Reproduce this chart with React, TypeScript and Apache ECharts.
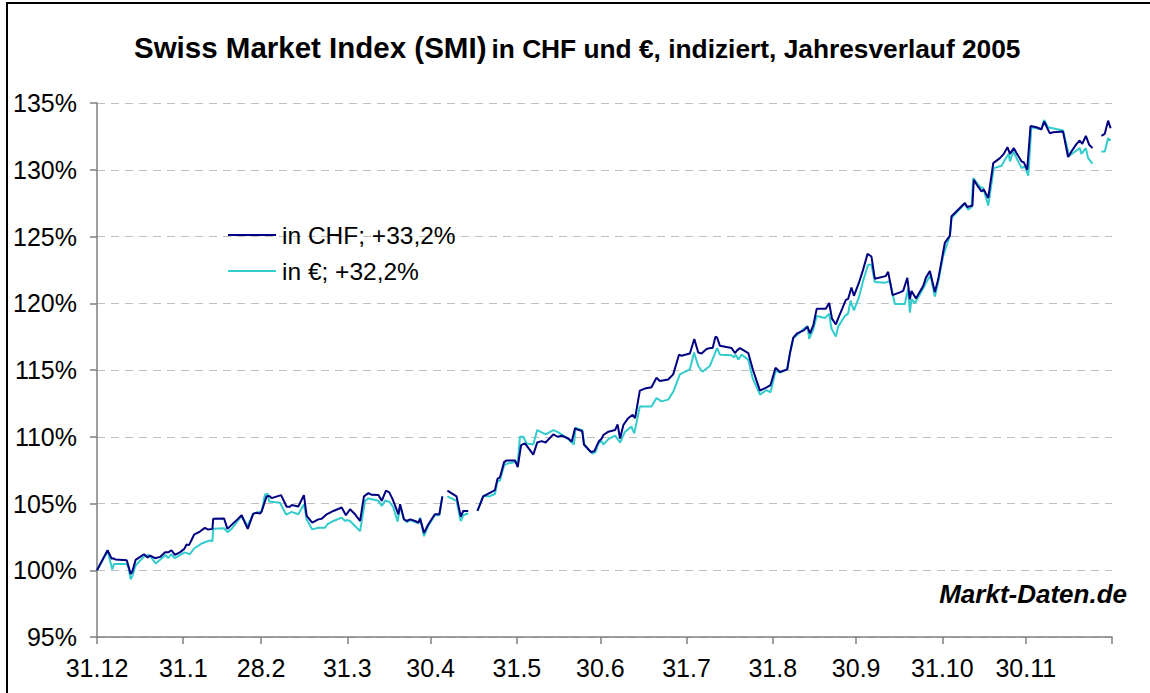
import React, { useEffect, useRef } from 'react';
import * as echarts from 'echarts';

// days since 31.12.2004
const tickDays = [0, 31, 59, 90, 120, 151, 181, 212, 243, 273, 304, 334, 365];
const tickLabels = ['31.12', '31.1', '28.2', '31.3', '30.4', '31.5', '30.6', '31.7', '31.8', '30.9', '31.10', '30.11', ''];
const seriesNames = ['in CHF; +33,2%', 'in €; +32,2%'];

const chfData: any[] = [
  [0, 100], [3.8, 101.5], [5.3, 100.85], [5.9, 100.9], [6.7, 100.8], [10.7, 100.75], [12.1, 99.73], [12.7, 99.9],
  [13.9, 100.78], [15.5, 101.0], [16.9, 101.2], [18.2, 100.95], [19.1, 101.1], [20.9, 100.9], [22.7, 101.0],
  [24.5, 101.34], [25.6, 101.34], [26.8, 101.5], [28.0, 101.15], [29.8, 101.34], [31.4, 101.6], [32.2, 101.93],
  [33.1, 101.88], [34.9, 102.66], [37.0, 102.9], [38.8, 103.17], [40.0, 103.05], [41.5, 103.1], [41.8, 103.85],
  [45.7, 103.88], [46.9, 103.1], [48.4, 103.4], [50.6, 103.83], [52.0, 104.12], [54.2, 103.1], [56.2, 104.24],
  [57.4, 104.3], [58.6, 104.24], [59.2, 104.4], [61.0, 105.54], [62.2, 105.54], [62.8, 105.4], [66.2, 105.63],
  [68.2, 104.76], [69.4, 104.76], [70.0, 104.88], [72.4, 104.78],
  [74.4, 105.63], [75.4, 104.07], [77.4, 103.56], [79.6, 103.81], [80.8, 103.86], [82.6, 104.19], [85.0, 104.44],
  [88.0, 104.7], [89.5, 104.12], [91.0, 104.57], [92.8, 104.19], [94.6, 103.69], [96.0, 105.53], [97.6, 105.78],
  [98.8, 105.65], [101.2, 105.63], [102.4, 105.2], [103.9, 105.96], [105.1, 105.83], [106.3, 105.33], [108.4, 104.19],
  [109.0, 104.95], [110.4, 103.81], [111.4, 103.69], [112.6, 103.81], [114.4, 103.69], [115.6, 103.56], [116.2, 103.86],
  [117.6, 102.8], [119.1, 103.43], [121.5, 104.19], [123.1, 104.19], [124.2, 105.53],
  [125, '-'],
  [126.0, 105.96], [129.3, 105.53], [130.8, 104.02], [131.7, 104.44], [133.5, 104.44],
  [135, '-'],
  [136.8, 104.44], [138.9, 105.53], [141.1, 105.78], [143.1, 106.0], [144.0, 106.84], [144.9, 106.97], [146.4, 108.1],
  [147.3, 108.23], [150.3, 108.23], [151.3, 107.73], [152.5, 109.37], [153.9, 109.5], [156.9, 108.66], [158.3, 109.57],
  [159.9, 109.67], [161.3, 109.57], [164.1, 110.18], [165.6, 110.0], [167.1, 110.08], [169.5, 109.87], [170.7, 109.62],
  [171.9, 110.63], [173.3, 110.5], [174.5, 110.43], [175.1, 109.42], [177.6, 108.86], [178.8, 108.91], [180.5, 109.67],
  [181.5, 109.87], [182.1, 110.13], [183.9, 110.38], [186.3, 110.5], [187.2, 110.93], [188.1, 109.87], [189.3, 110.88],
  [191.0, 111.39], [192.6, 111.64], [193.5, 111.39], [195.2, 113.46], [197.0, 113.61], [199.4, 113.71], [201.2, 114.42],
  [202.4, 114.17], [205.4, 114.29], [207.2, 114.67], [209.3, 116.14], [210.2, 116.07], [213.2, 116.24], [214.8, 117.32],
  [216.2, 116.31], [217.4, 116.24], [219.2, 116.57],
  [220.4, 116.64], [221.4, 116.64], [222.4, 117.5], [223.0, 117.43], [224.0, 116.81], [228.2, 116.64], [229.4, 116.27],
  [230.2, 116.47], [231.2, 116.64], [234.2, 116.27], [236.0, 114.93], [238.4, 113.46], [240.8, 113.7], [242.2, 113.87],
  [244.0, 115.17], [245.6, 114.85], [248.2, 115.05], [249.2, 116.27], [250.4, 117.43], [251.8, 117.75], [254.3, 117.99],
  [255.5, 118.24], [256.4, 117.75], [257.6, 118.36], [258.8, 119.58], [262.1, 119.58], [263.3, 120.02], [264.3, 118.85],
  [265.7, 118.41], [266.5, 118.85], [269.3, 120.25], [270.1, 120.32], [271.3, 121.18], [272.2, 120.56], [274.0, 121.54],
  [275.5, 122.52], [277.1, 123.7], [278.5, 123.5], [279.7, 121.84], [283.6, 122.03], [284.5, 122.35], [286.1, 120.61],
  [288.7, 120.81], [289.9, 120.93], [291.4, 121.91],
  [292.3, 120.3], [292.9, 120.92], [294.5, 120.35], [297.1, 121.29], [298.1, 121.92], [299.5, 122.41], [301.3, 120.85],
  [302.5, 121.79], [304.9, 124.53], [306.7, 125.07], [307.3, 126.52], [312.1, 127.51], [312.9, 127.21], [313.9, 127.26],
  [314.8, 127.31], [315.3, 129.25], [316.9, 128.71], [318.1, 128.38], [318.9, 128.51], [320.5, 127.89], [322.3, 130.5],
  [324.7, 130.87], [326.1, 131.19], [327.4, 131.69], [328.3, 131.19], [329.7, 131.62], [330.7, 131.24], [332.5, 130.62],
  [333.3, 130.55], [334.5, 130.0], [335.7, 133.28], [337.8, 133.18], [339.6, 133.03], [340.6, 133.61], [342.6, 132.74],
  [343.8, 132.81], [347.4, 132.86], [349.2, 130.95], [350.4, 131.37], [352.2, 131.92], [353.4, 132.19], [354.3, 131.94],
  [355.6, 132.54], [356.8, 131.87], [358.0, 131.62],
  [360, '-'],
  [361.2, 132.54], [362.4, 132.69], [363.6, 133.68], [364.5, 133.11],
];

const eurData: any[] = [
  [0, 100], [3.8, 101.44], [5.5, 100.05], [6.1, 100.46], [10.7, 100.46], [11.3, 100.22], [12.1, 99.32], [12.7, 99.56],
  [13.9, 100.37], [16.9, 101.02], [18.5, 101.15], [19.7, 100.9], [21.1, 100.51], [22.9, 100.83], [24.7, 101.15],
  [25.6, 100.9], [26.6, 101.2], [28.0, 100.9], [31.6, 101.34], [33.4, 101.2], [34.9, 101.63], [37.6, 102.0],
  [40.6, 102.24], [41.5, 102.17], [41.8, 103.1], [45.7, 103.15], [46.9, 102.85], [48.4, 103.1], [52.0, 104.07],
  [54.2, 103.34], [56.2, 104.24], [58.6, 104.39], [59.2, 104.39], [60.4, 105.66], [61.4, 105.73], [61.9, 105.15],
  [65.8, 105.05], [68.0, 104.17], [70.0, 104.37], [72.4, 104.2],
  [74.4, 104.95], [75.4, 103.8], [77.4, 103.06], [79.6, 103.18], [82.0, 103.18], [82.8, 103.43], [85.0, 103.69],
  [88.0, 103.94], [89.2, 103.69], [89.8, 103.76], [91.0, 103.69], [92.8, 103.31], [94.6, 102.93], [96.4, 105.2],
  [97.6, 105.38], [101.2, 105.2], [102.4, 104.82], [103.6, 105.2], [105.1, 105.13], [106.6, 104.7], [108.1, 103.64],
  [109.0, 104.82], [110.4, 103.81], [111.4, 103.61], [112.6, 103.76], [114.4, 103.61], [115.6, 103.51], [116.2, 103.94],
  [117.6, 102.55], [119.1, 103.31], [121.5, 104.12], [123.1, 104.12], [124.2, 105.53],
  [125, '-'],
  [126.0, 105.53], [129.3, 105.2], [130.8, 103.69], [131.7, 104.12], [133.5, 104.27],
  [135, '-'],
  [136.8, 104.44], [138.9, 105.58], [141.1, 105.53], [143.1, 105.71], [144.0, 106.64], [144.9, 106.72], [146.4, 107.85],
  [147.3, 107.98], [150.3, 108.1], [151.3, 108.1], [152.1, 110.0], [153.3, 110.0], [154.5, 109.5], [156.9, 109.42],
  [158.3, 110.5], [161.3, 110.18], [164.1, 110.5], [165.9, 110.33], [167.7, 110.08], [169.5, 109.82], [171.5, 109.42],
  [172.1, 110.68], [174.5, 110.5], [175.2, 109.42], [178.1, 108.74], [179.3, 108.86], [180.3, 109.5], [181.5, 109.67],
  [182.1, 109.42], [183.9, 109.82], [186.3, 110.08], [188.1, 109.57], [189.9, 110.38], [192.2, 110.76], [193.2, 110.25],
  [195.2, 112.27], [199.4, 112.27], [201.2, 112.9], [203.0, 112.65], [205.4, 112.78], [207.2, 113.36], [209.6, 114.67],
  [213.2, 115.05], [214.7, 116.31], [216.2, 115.3], [217.7, 114.87], [220.4, 115.3],
  [223.0, 116.64], [224.0, 116.15], [228.2, 116.1], [229.0, 115.95], [229.7, 116.15], [230.6, 115.78], [231.8, 116.15],
  [234.2, 115.78], [235.7, 114.44], [238.4, 113.16], [240.8, 113.5], [242.2, 113.33], [244.0, 114.93], [245.6, 114.8],
  [248.2, 115.05], [249.2, 116.27], [250.4, 117.38], [251.8, 117.62], [254.3, 118.11], [255.5, 118.3], [256.1, 117.33],
  [257.6, 118.06], [258.8, 119.04], [261.8, 118.9], [263.3, 119.22], [264.1, 118.11], [265.7, 117.5], [266.5, 118.23],
  [268.9, 119.04], [270.1, 119.22], [271.0, 120.2], [272.2, 119.46], [274.0, 120.44], [275.5, 121.67], [277.3, 122.89],
  [278.5, 122.89], [279.7, 121.59], [283.6, 121.54], [285.1, 121.67], [286.9, 119.95], [290.5, 119.95], [291.7, 121.1],
  [292.3, 119.3], [292.9, 120.3], [294.1, 120.0], [297.1, 121.1], [298.3, 121.6], [299.7, 122.09], [301.3, 120.5],
  [302.5, 121.59], [304.3, 123.53], [306.7, 125.07], [307.3, 126.39], [312.1, 127.46], [313.3, 127.01], [314.5, 127.21],
  [315.1, 129.38], [317.5, 128.71], [318.7, 128.63], [320.5, 127.31], [322.5, 130.12], [325.3, 130.3], [326.5, 130.75],
  [327.9, 131.19], [328.3, 130.62], [329.5, 131.37], [332.5, 130.12], [333.7, 130.25], [334.9, 129.55], [336.0, 133.18],
  [339.6, 133.03], [340.6, 133.73], [342.0, 133.18], [347.4, 132.94], [349.6, 131.04], [352.2, 131.44], [353.4, 131.62],
  [354.0, 131.19], [355.6, 131.62], [356.4, 130.87], [358.0, 130.45],
  [360, '-'],
  [361.2, 131.37], [362.4, 131.37], [363.6, 132.36], [364.5, 132.19],
];

const FONT = "'Liberation Sans', Arial, sans-serif";

export default function App() {
  const ref = useRef<HTMLDivElement>(null);
  useEffect(() => {
    const chart = echarts.init(ref.current as HTMLDivElement, null, { renderer: 'svg' });
    chart.setOption({
      animation: false,
      backgroundColor: '#ffffff',
      title: {
        text: '{a|Swiss Market Index (SMI)} {b|in CHF und €, indiziert, Jahresverlauf 2005}',
        left: 134,
        top: 32,
        padding: 0,
        textStyle: {
          rich: {
            a: { fontSize: 29.5, fontWeight: 'bold', fontFamily: FONT, color: '#000', verticalAlign: 'bottom' },
            b: { fontSize: 26.3, fontWeight: 'bold', fontFamily: FONT, color: '#000', verticalAlign: 'bottom' },
          },
        },
      },
      legend: {
        orient: 'vertical',
        left: 228,
        top: 221,
        padding: 0,
        itemWidth: 48,
        itemHeight: 2,
        itemGap: 8,
        icon: 'rect',
        textStyle: { fontSize: 24.5, fontFamily: FONT, color: '#000', lineHeight: 28, padding: [0, 0, 0, 1] },
        data: seriesNames,
      },
      grid: { left: 97, right: 38, top: 103, bottom: 56, containLabel: false },
      xAxis: {
        type: 'value',
        min: 0,
        max: 365,
        axisLine: { show: true, lineStyle: { color: '#808080', width: 1.5 } },
        axisTick: { show: true, customValues: tickDays, length: 7, lineStyle: { color: '#808080', width: 1.5 } },
        axisLabel: {
          customValues: tickDays.slice(0, 12),
          formatter: (v: number) => tickLabels[tickDays.indexOf(v)] ?? '',
          fontSize: 25,
          fontFamily: FONT,
          color: '#000',
          margin: 18,
        },
        splitLine: { show: false },
      },
      yAxis: {
        type: 'value',
        min: 95,
        max: 135,
        interval: 5,
        axisLine: { show: true, lineStyle: { color: '#808080', width: 1.5 } },
        axisTick: { show: true, length: 7, lineStyle: { color: '#808080', width: 1.5 } },
        axisLabel: { formatter: '{value}%', fontSize: 25, fontFamily: FONT, color: '#000', margin: 20 },
        splitLine: { show: true, lineStyle: { color: '#c0c0c0', type: [8, 6], width: 1 } },
      },
      series: [
        {
          name: seriesNames[0],
          type: 'line',
          data: chfData,
          showSymbol: false,
          connectNulls: false,
          color: '#000080',
          lineStyle: { width: 2, color: '#000080' },
          z: 3,
        },
        {
          name: seriesNames[1],
          type: 'line',
          data: eurData,
          showSymbol: false,
          connectNulls: false,
          color: '#33CCCC',
          lineStyle: { width: 2, color: '#33CCCC' },
          z: 2,
        },
      ],
      graphic: [
        {
          type: 'rect',
          shape: { x: 7, y: 3, width: 1200, height: 800 },
          style: { fill: 'none', stroke: '#000', lineWidth: 2 },
          silent: true,
        },
        {
          type: 'text',
          right: 23,
          top: 581,
          style: { text: 'Markt-Daten.de', font: `italic bold 26px ${FONT}`, fill: '#000' },
        },
      ],
    });
    return () => chart.dispose();
  }, []);
  return (
    <div
      ref={ref}
      style={{ position: 'absolute', left: 0, top: 0, width: 1150, height: 693 }}
    />
  );
}
